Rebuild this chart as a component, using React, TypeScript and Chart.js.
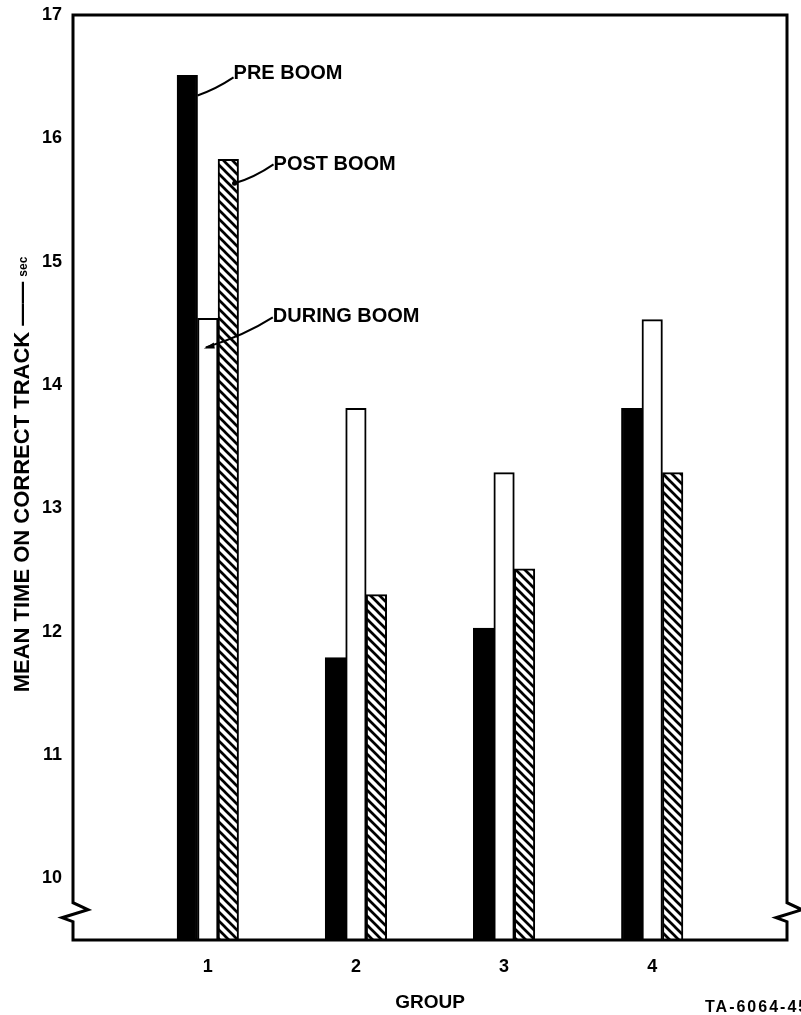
import React, { useEffect, useRef } from 'react';
import { Chart, registerables } from 'chart.js';

Chart.register(...registerables);

// ---- data ----
const groupLabels = ['1', '2', '3', '4'];
const groupPositions = [1, 2, 3, 4];
const preBoom = [16.51, 11.79, 12.03, 13.81];
const duringBoom = [14.54, 13.81, 13.29, 14.53];
const postBoom = [15.83, 12.3, 12.51, 13.29];
const yTickValues = [10, 11, 12, 13, 14, 15, 16, 17];
const seriesNames = ['PRE BOOM', 'DURING BOOM', 'POST BOOM'];
const yTitle = 'MEAN TIME ON CORRECT TRACK ——';
const yUnit = 'sec';
const xTitle = 'GROUP';
const figureId = 'TA-6064-45';
const yMin = 9.5;
const yMax = 17;
const xMin = 0.09;
const xMax = 4.91;
const breakValue = 9.77;

const FONT = "'Liberation Sans', Arial, sans-serif";

function makeHatch(ctx: CanvasRenderingContext2D) {
  const s = 9;
  const c = document.createElement('canvas');
  c.width = s;
  c.height = s;
  const g = c.getContext('2d') as CanvasRenderingContext2D;
  g.fillStyle = '#fff';
  g.fillRect(0, 0, s, s);
  g.strokeStyle = '#000';
  g.lineWidth = 2.7;
  g.beginPath();
  g.moveTo(-2, -2);
  g.lineTo(s + 2, s + 2);
  g.moveTo(-2, s - 2);
  g.lineTo(2, s + 2);
  g.moveTo(s - 2, -2);
  g.lineTo(s + 2, 2);
  g.stroke();
  return ctx.createPattern(c, 'repeat');
}

const decorPlugin = {
  id: 'decor',
  afterDraw(chart: any) {
    const { ctx, chartArea: a, scales } = chart;
    const ys = scales.y;
    ctx.save();
    ctx.strokeStyle = '#000';
    ctx.fillStyle = '#000';
    ctx.lineJoin = 'miter';

    // frame with axis break marks
    const by = ys.getPixelForValue(breakValue);
    ctx.lineWidth = 3;
    ctx.beginPath();
    ctx.moveTo(a.left, a.top);
    ctx.lineTo(a.left, by - 4);
    ctx.lineTo(a.left + 15, by + 3);
    ctx.lineTo(a.left - 11, by + 11);
    ctx.lineTo(a.left, by + 15);
    ctx.lineTo(a.left, a.bottom);
    ctx.lineTo(a.right, a.bottom);
    ctx.lineTo(a.right, by + 15);
    ctx.lineTo(a.right - 11, by + 11);
    ctx.lineTo(a.right + 15, by + 3);
    ctx.lineTo(a.right, by - 4);
    ctx.lineTo(a.right, a.top);
    ctx.closePath();
    ctx.stroke();

    // annotations
    ctx.font = `bold 20px ${FONT}`;
    ctx.textAlign = 'left';
    ctx.textBaseline = 'middle';
    ctx.lineWidth = 2;

    const pre = chart.getDatasetMeta(0).data[0];
    const dur = chart.getDatasetMeta(1).data[0];
    const post = chart.getDatasetMeta(2).data[0];

    if (pre) {
      const r = pre.x + pre.width / 2;
      const t = pre.y;
      ctx.beginPath();
      ctx.moveTo(r, t + 20);
      ctx.quadraticCurveTo(r + 18, t + 14, r + 36, t + 2);
      ctx.stroke();
      ctx.fillText(seriesNames[0], r + 36, t - 2);
    }
    if (post) {
      const r = post.x + post.width / 2;
      const t = post.y;
      ctx.beginPath();
      ctx.moveTo(r - 4, t + 24);
      ctx.quadraticCurveTo(r + 16, t + 18, r + 35, t + 5);
      ctx.stroke();
      ctx.beginPath();
      ctx.arc(r - 4, t + 24, 2.5, 0, Math.PI * 2);
      ctx.fill();
      ctx.fillText(seriesNames[2], r + 35, t + 5);
    }
    if (dur) {
      const cx = dur.x;
      const t = dur.y;
      ctx.beginPath();
      ctx.moveTo(cx - 2, t + 29);
      ctx.quadraticCurveTo(cx + 35, t + 18, cx + 65, t - 1);
      ctx.stroke();
      ctx.beginPath();
      ctx.moveTo(cx - 4, t + 30);
      ctx.lineTo(cx + 6, t + 24);
      ctx.lineTo(cx + 7, t + 30);
      ctx.closePath();
      ctx.fill();
      ctx.fillText(seriesNames[1], cx + 65, t - 2);
    }

    // y-axis title (rotated), main part plus smaller unit
    const cy = (a.top + a.bottom) / 2 - 3;
    ctx.save();
    ctx.translate(23, cy);
    ctx.rotate(-Math.PI / 2);
    ctx.font = `bold 22px ${FONT}`;
    const w1 = ctx.measureText(yTitle).width;
    ctx.font = `bold 12px ${FONT}`;
    const w2 = ctx.measureText(yUnit).width;
    const gap = 5;
    const total = w1 + gap + w2;
    const x0 = -total / 2;
    ctx.textAlign = 'left';
    ctx.textBaseline = 'middle';
    ctx.font = `bold 22px ${FONT}`;
    ctx.fillText(yTitle, x0, 0);
    ctx.font = `bold 12px ${FONT}`;
    ctx.fillText(yUnit, x0 + w1 + gap, 1);
    ctx.restore();

    // figure id at lower right
    ctx.font = `bold 16px ${FONT}`;
    (ctx as any).letterSpacing = '2px';
    ctx.textAlign = 'left';
    ctx.textBaseline = 'middle';
    ctx.fillText(figureId, a.right - 82, chart.height - 7);
    (ctx as any).letterSpacing = '0px';

    ctx.restore();
  },
};

export default function App() {
  const canvasRef = useRef<HTMLCanvasElement | null>(null);

  useEffect(() => {
    const canvas = canvasRef.current;
    if (!canvas) return;
    const ctx = canvas.getContext('2d') as CanvasRenderingContext2D;
    const hatch = makeHatch(ctx);

    const toPoints = (vals: number[]) => vals.map((v, i) => ({ x: groupPositions[i], y: v }));

    const chart = new Chart(canvas, {
      type: 'bar',
      data: {
        datasets: [
          {
            label: seriesNames[0],
            data: toPoints(preBoom),
            backgroundColor: '#000',
            borderColor: '#000',
            borderWidth: 2,
            borderSkipped: 'start',
          },
          {
            label: seriesNames[1],
            data: toPoints(duringBoom),
            backgroundColor: '#fff',
            borderColor: '#000',
            borderWidth: 2,
            borderSkipped: 'start',
          },
          {
            label: seriesNames[2],
            data: toPoints(postBoom),
            backgroundColor: hatch as any,
            borderColor: '#000',
            borderWidth: 2,
            borderSkipped: 'start',
          },
        ] as any,
      },
      options: {
        animation: false,
        responsive: true,
        maintainAspectRatio: false,
        devicePixelRatio: 1,
        barThickness: 20.5,
        layout: { padding: { top: 15, right: 14, left: 0, bottom: 0 } },
        plugins: {
          legend: { display: false },
          tooltip: { enabled: false },
          title: { display: false },
        },
        scales: {
          x: {
            type: 'linear',
            min: xMin,
            max: xMax,
            offset: false,
            grid: { display: false, drawTicks: false },
            border: { display: false },
            afterBuildTicks: (s: any) => {
              s.ticks = groupPositions.map((v) => ({ value: v }));
            },
            afterFit: (s: any) => {
              s.height = 75;
              s.paddingLeft = 0;
              s.paddingRight = 0;
            },
            ticks: {
              autoSkip: false,
              maxRotation: 0,
              padding: 16,
              color: '#000',
              font: { family: FONT, size: 18, weight: 'bold' },
              callback: (v: any) => {
                const i = groupPositions.indexOf(Number(v));
                return i >= 0 ? groupLabels[i] : '';
              },
            },
            title: {
              display: true,
              text: xTitle,
              color: '#000',
              font: { family: FONT, size: 19, weight: 'bold' },
              padding: { top: 0, bottom: 1 },
            },
          },
          y: {
            min: yMin,
            max: yMax,
            grid: { display: false, drawTicks: false },
            border: { display: false },
            afterBuildTicks: (s: any) => {
              s.ticks = yTickValues.map((v) => ({ value: v }));
            },
            afterFit: (s: any) => {
              s.width = 73;
              s.paddingTop = 0;
              s.paddingBottom = 0;
            },
            ticks: {
              padding: 11,
              color: '#000',
              font: { family: FONT, size: 18, weight: 'bold' },
            },
          },
        },
      } as any,
      plugins: [decorPlugin],
    });

    return () => {
      chart.destroy();
    };
  }, []);

  return (
    <div
      style={{
        position: 'absolute',
        left: 0,
        top: 0,
        width: 801,
        height: 1015,
        overflow: 'hidden',
        background: '#fff',
      }}
    >
      <canvas ref={canvasRef} />
    </div>
  );
}
